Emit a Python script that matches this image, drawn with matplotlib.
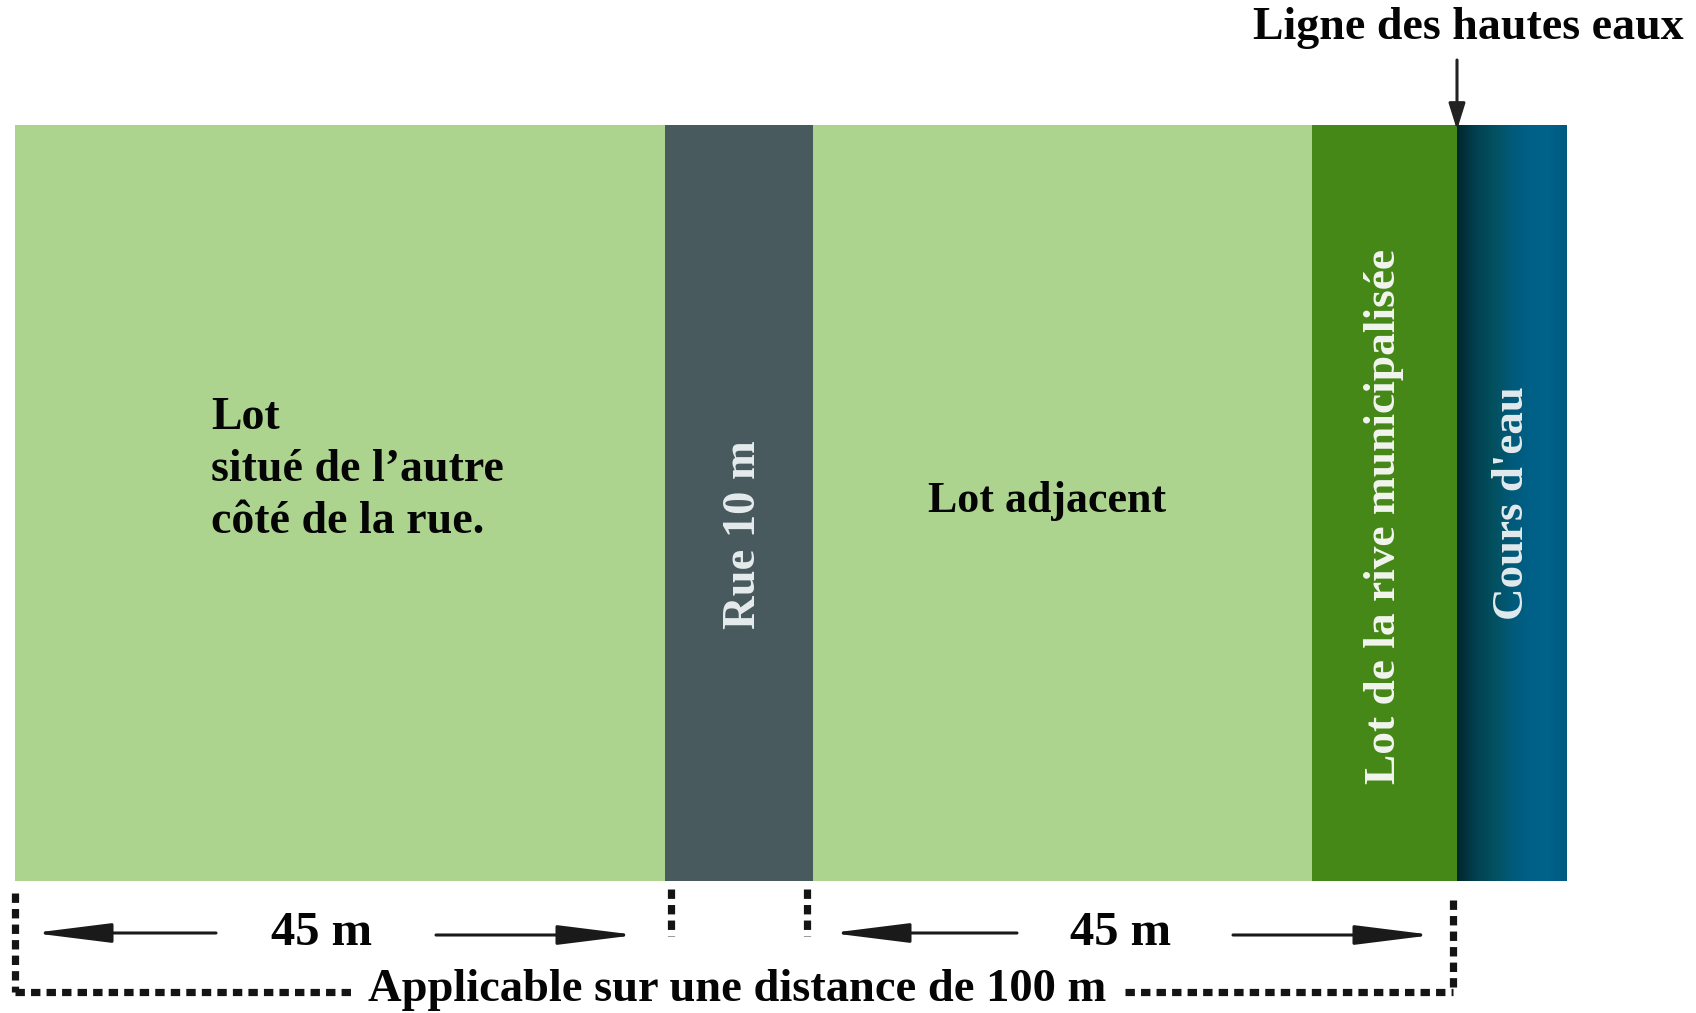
import matplotlib
matplotlib.use("Agg")
import matplotlib.pyplot as plt
import numpy as np
from matplotlib.colors import LinearSegmentedColormap
from matplotlib.patches import Rectangle

# ---- data ----
segment_names = ["Lot\nsitué de l’autre\ncôté de la rue.", "Rue 10 m", "Lot adjacent",
                 "Lot de la rive municipalisée", "Cours d'eau"]
segment_edges = [15, 665, 813, 1312, 1457, 1567]     # x boundaries (image units)
segment_colors = ["#acd48f", "#485a5d", "#acd48f", "#468818", None]
segment_text_colors = ["#050505", "#e6ecee", "#050505", "#f2f5ef", "#e2eaec"]
segment_rotation = [0, 90, 0, 90, 90]
band_top, band_bottom = 125, 881
water_colors = ["#01262b", "#02404f", "#03505f", "#015a7a", "#006088", "#00628a", "#005a80"]

dim_labels = ["45 m", "45 m"]
total_label = "Applicable sur une distance de 100 m"
hwl_label = "Ligne des hautes eaux"

FONT = ["Liberation Serif", "DejaVu Serif"]

fig = plt.figure(figsize=(16.96, 10.13), dpi=100)
ax = fig.add_axes([0, 0, 1, 1])
ax.set_xlim(0, 1696)
ax.set_ylim(1013, 0)
ax.axis("off")

# ---- bands ----
for i, col in enumerate(segment_colors):
    x0, x1 = segment_edges[i], segment_edges[i + 1]
    if col is None:
        cmap = LinearSegmentedColormap.from_list("water", water_colors)
        grad = np.linspace(0, 1, 256).reshape(1, -1)
        ax.imshow(grad, cmap=cmap, aspect="auto",
                  extent=(x0, x1, band_bottom, band_top), zorder=1)
    else:
        ax.add_patch(Rectangle((x0, band_top), x1 - x0, band_bottom - band_top,
                               facecolor=col, edgecolor="none", zorder=1))
ax.set_xlim(0, 1696)
ax.set_ylim(1013, 0)

# ---- band labels ----
label_pos = [(211, 470, "left"), (744, 535, "center"), (1047, 501, "center"),
             (1384, 516, "center"), (1512, 503, "center")]
label_size = [33, 33.5, 31.7, 32.7, 32.4]
for i, name in enumerate(segment_names):
    x, y, ha = label_pos[i]
    ax.text(x, y, name, ha=ha, va="center", rotation=segment_rotation[i],
            rotation_mode="anchor", color=segment_text_colors[i],
            fontsize=label_size[i], fontweight="bold", family=FONT,
            linespacing=1.3, zorder=3)

# ---- high water line ----
ax.text(1684, 28, hwl_label, ha="right", va="center", fontsize=33,
        fontweight="bold", family=FONT, color="#050505")
ax.annotate("", xy=(1457, 130), xytext=(1457, 60),
            arrowprops=dict(arrowstyle="-|>,head_length=1.6,head_width=0.5",
                            lw=2.2, color="#222222", shrinkA=0, shrinkB=0))

# ---- dashed dimension lines ----
dash = dict(color="#141414", lw=5.2, linestyle=(0, (1.3, 0.85)),
            dash_capstyle="butt", zorder=2)
bx0, bx1 = segment_edges[0], segment_edges[4]
ax.plot([bx0, bx0], [893, 992], **dash)
ax.plot([bx0, 351], [992, 992], **dash)
ax.plot([1125, bx1 - 4], [992, 992], **dash)
ax.plot([bx1 - 4, bx1 - 4], [900, 992], **dash)
for xr in (segment_edges[1] + 6, segment_edges[2] - 6):
    ax.plot([xr, xr], [889, 936], **dash)

ax.text(737, 990, total_label, ha="center", va="center", fontsize=33.5,
        fontweight="bold", family=FONT, color="#050505")

# ---- 45 m arrows ----
arr = dict(arrowstyle="-|>,head_length=4.8,head_width=0.6", lw=2.2,
           color="#1a1a1a", shrinkA=0, shrinkB=0)
dims = [(33, 216, 322, 436, 636), (831, 1017, 1121, 1233, 1433)]
for (la, lt, tx, rt, ra), lab in zip(dims, dim_labels):
    ax.annotate("", xy=(la, 933), xytext=(lt, 933), arrowprops=arr)
    ax.annotate("", xy=(ra, 935), xytext=(rt, 935), arrowprops=arr)
    ax.text(tx, 933, lab, ha="center", va="center", fontsize=35,
            fontweight="bold", family=FONT, color="#050505")

fig.savefig("out.png", dpi=100, facecolor="white")
